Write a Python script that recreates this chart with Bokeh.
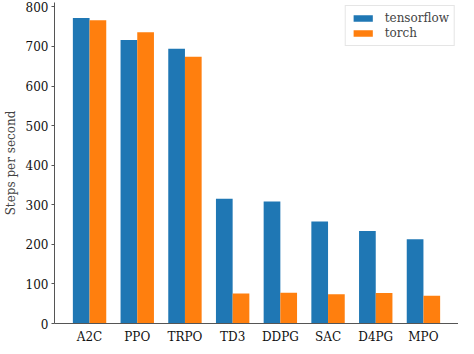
from bokeh.plotting import figure
from bokeh.models import ColumnDataSource, FactorRange, Range1d, FixedTicker, Legend, LegendItem
from bokeh.transform import dodge
from bokeh.embed import file_html
from bokeh.resources import INLINE

algos = ["A2C", "PPO", "TRPO", "TD3", "DDPG", "SAC", "D4PG", "MPO"]
tensorflow = [772, 716, 694, 315, 308, 258, 234, 213]
torch = [766, 736, 674, 76, 78, 74, 77, 70]
y_ticks = [0, 100, 200, 300, 400, 500, 600, 700, 800]

FONT = "DejaVu Serif"

src = ColumnDataSource(dict(algo=algos, tensorflow=tensorflow, torch=torch))

p = figure(width=458, height=346, output_backend="svg", toolbar_location=None,
           x_range=FactorRange(factors=algos, range_padding=0.05875),
           y_range=Range1d(0, 811), min_border_top=2, min_border_right=0,
           min_border_left=0, min_border_bottom=0)

r1 = p.vbar(x=dodge("algo", -0.175, range=p.x_range), top="tensorflow", width=0.35,
            source=src, fill_color="#1f77b4", line_color=None)
r2 = p.vbar(x=dodge("algo", 0.175, range=p.x_range), top="torch", width=0.35,
            source=src, fill_color="#ff7f0e", line_color=None)

p.outline_line_color = None
p.xgrid.grid_line_color = None
p.ygrid.grid_line_color = None
p.background_fill_color = "white"
p.border_fill_color = "white"

p.yaxis.ticker = FixedTicker(ticks=y_ticks)
p.yaxis.axis_label = "Steps per second"
p.yaxis.axis_label_text_font = FONT
p.yaxis.axis_label_text_font_style = "normal"
p.yaxis.axis_label_text_font_size = "12px"
p.yaxis.axis_label_standoff = 5
p.yaxis.minor_tick_line_color = None
p.yaxis.major_tick_in = 0
p.yaxis.major_tick_out = 3

for ax in (p.xaxis, p.yaxis):
    ax.axis_line_color = "#555555"
    ax.axis_line_width = 1
    ax.major_tick_line_color = "#555555"
    ax.major_label_text_font = FONT
    ax.major_label_text_font_size = "12px"
    ax.major_label_text_color = "#111111"
    ax.major_label_standoff = 3

p.xaxis.major_tick_line_color = None
p.xaxis.major_tick_in = 0
p.xaxis.major_tick_out = 0
p.xaxis.minor_tick_out = 0
p.xaxis.major_label_standoff = 6

legend = Legend(items=[LegendItem(label="tensorflow", renderers=[r1]),
                       LegendItem(label="torch", renderers=[r2])],
                location="top_right")
legend.label_text_font = FONT
legend.label_text_font_size = "12px"
legend.glyph_width = 24
legend.glyph_height = 8
legend.label_standoff = 10
legend.label_height = 14
legend.spacing = 1
legend.padding = 5
legend.margin = 3
legend.border_line_color = "#cccccc"
legend.border_line_width = 1
legend.background_fill_alpha = 0.8
p.add_layout(legend)

open("out.html", "w").write(file_html(p, INLINE))
